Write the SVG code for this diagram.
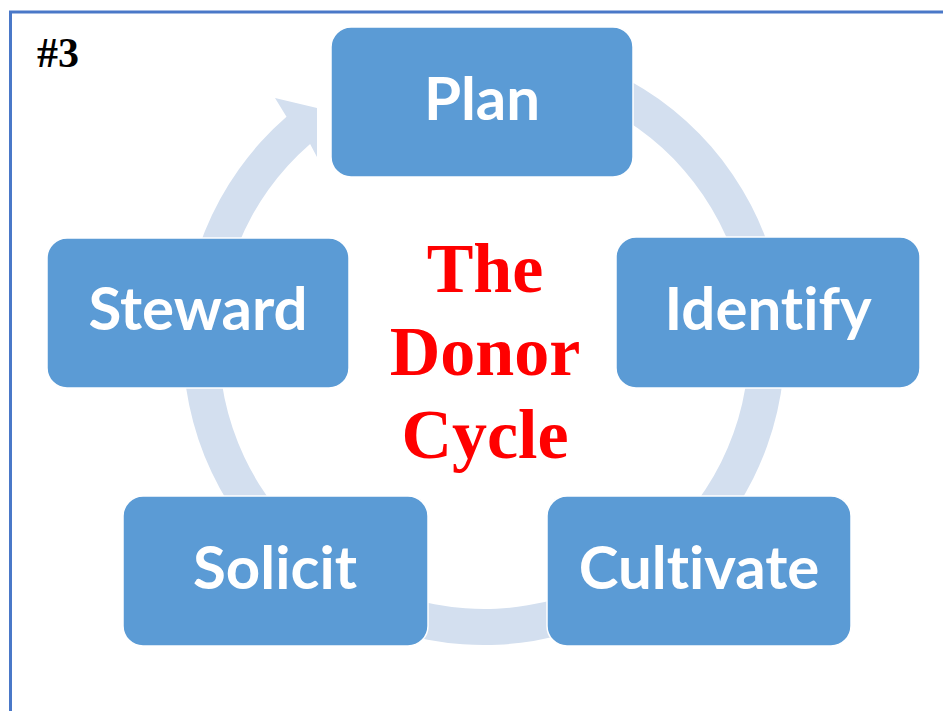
<svg xmlns="http://www.w3.org/2000/svg" width="943" height="711" viewBox="0 0 943 711">
  <style>
    .node rect { fill: #5b9bd5; stroke: #ffffff; stroke-width: 1.5; }
    .node text { font-family: Lato, "Open Sans", sans-serif; font-weight: bold; font-size: 60px; fill: #ffffff; text-anchor: middle; font-variant-ligatures: none; font-feature-settings: "liga" 0, "clig" 0; }
    .title { font-family: "Liberation Serif", "Times New Roman", serif; font-weight: bold; font-size: 70px; fill: #ff0000; text-anchor: middle; }
    .tag { font-family: "Liberation Serif", "Times New Roman", serif; font-weight: bold; font-size: 42px; fill: #000000; }
  </style>

  <rect x="0" y="0" width="943" height="711" fill="#ffffff"/>
  <!-- frame, open past the right and bottom edges -->
  <rect x="10.5" y="12" width="1000" height="1000" fill="none" stroke="#4a78c8" stroke-width="3"/>

  <text class="tag" x="37" y="67">#3</text>

  <!-- circular arrow running clockwise behind the steps -->
  <g id="connectors">
    <path fill="#d3dfef" d="M 457.77 44.15 A 301 301 0 1 1 286.5 116.8 L 275 98 L 317 108 L 317 157 L 310.1 144.0 A 265 265 0 1 0 460.9 80.0 Z"/>
  </g>

  <g id="plan" class="node">
    <rect x="331" y="27" width="302" height="150" rx="20"/>
    <text x="482" y="120">Plan</text>
  </g>
  <g id="identify" class="node">
    <rect x="616" y="237" width="304" height="151" rx="20"/>
    <text x="768" y="330">Identify</text>
  </g>
  <g id="cultivate" class="node">
    <rect x="547" y="496" width="304" height="150" rx="20"/>
    <text x="699" y="589">Cultivate</text>
  </g>
  <g id="solicit" class="node">
    <rect x="123" y="496" width="305" height="150" rx="20"/>
    <text x="275" y="589">Solicit</text>
  </g>
  <g id="steward" class="node">
    <rect x="47" y="238" width="302" height="150" rx="20"/>
    <text x="198" y="330">Steward</text>
  </g>

  <g id="center-title">
    <text class="title" x="485" y="292">The</text>
    <text class="title" x="485" y="375">Donor</text>
    <text class="title" x="485" y="458">Cycle</text>
  </g>
</svg>
